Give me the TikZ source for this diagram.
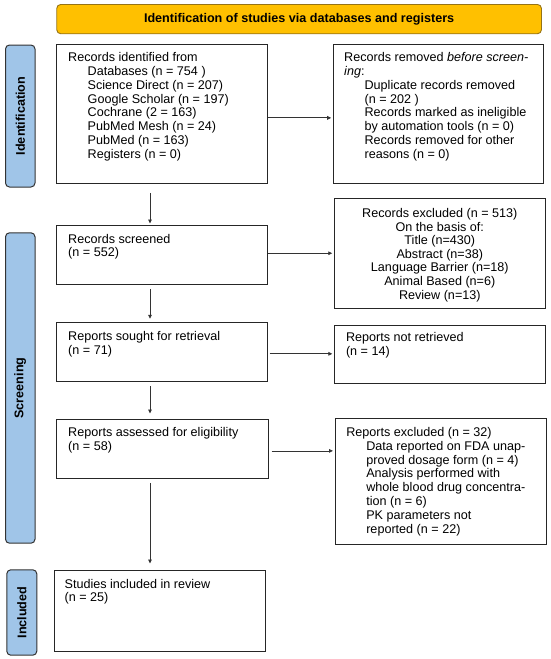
\documentclass[tikz,border=0pt]{standalone}
\usepackage{fontspec}
\setmainfont{Liberation Sans}
\usetikzlibrary{arrows.meta,calc}
\definecolor{sideblue}{RGB}{160,197,232}
\definecolor{gold}{RGB}{255,192,0}
\definecolor{goldedge}{RGB}{150,115,20}
\begin{document}
\begin{tikzpicture}[x=1pt,y=-1pt,
  box/.style={draw=black!85,line width=1.1pt,inner sep=0,anchor=north west},
  side/.style={draw=black!80,fill=sideblue,line width=1pt,rounded corners=4pt,inner sep=0,anchor=north west},
  banner/.style={draw=goldedge,fill=gold,line width=0.9pt,rounded corners=4pt,inner sep=0,anchor=north west},
  txt/.style={inner sep=0,anchor=north west,align=left,font=\fontsize{12.6}{13.85}\selectfont},
  ctxt/.style={inner sep=0,anchor=north,align=center,font=\fontsize{12.6}{13.6}\selectfont},
  lab/.style={inner sep=0,font=\bfseries\fontsize{12.6}{14}\selectfont,rotate=90},
  arr/.style={draw=black!80,line width=0.8pt,-{Triangle[length=4pt,width=3.6pt]}}
]
\useasboundingbox (0,0) rectangle (550,659);

% banner
\node[banner,minimum width=484.7,minimum height=29.3] (ban) at (56.3,4) {};
\node[inner sep=0,font=\bfseries\fontsize{12.6}{14}\selectfont] (bant) at (ban.center) {Identification of studies via databases and registers};

% side labels
\node[side,minimum width=29.5,minimum height=142] (s1) at (5,44.5) {};
\node[lab] (s1t) at (s1.center) {Identification};
\node[side,minimum width=29.5,minimum height=310.4] (s2) at (5,232.3) {};
\node[lab] (s2t) at (s2.center) {Screening};
\node[side,minimum width=30,minimum height=85.4] (s3) at (6.3,569.3) {};
\node[lab] (s3t) at (s3.center) {Included};

% boxes
\node[box,minimum width=210.2,minimum height=138.4] (b1) at (56.3,44.3) {};
\node[box,minimum width=210.6,minimum height=138.4] (b2) at (332.7,44.3) {};
\node[box,minimum width=210.9,minimum height=110] (b3) at (333.8,198.3) {};
\node[box,minimum width=210.2,minimum height=59] (b4) at (56.3,225) {};
\node[box,minimum width=210.2,minimum height=58.7] (b5) at (56.3,322.3) {};
\node[box,minimum width=210.9,minimum height=58] (b6) at (333.8,324.7) {};
\node[box,minimum width=211.3,minimum height=58.7] (b7) at (56.3,419) {};
\node[box,minimum width=211.3,minimum height=126] (b8) at (334.5,418.3) {};
\node[box,minimum width=211.3,minimum height=80.7] (b9) at (53.5,570) {};

% texts
\node[txt] (t1) at ([shift={(11.7,7.9)}]b1.north west) {Records identified from\\
\hspace*{19.5pt}Databases (n = 754 )\\
\hspace*{19.5pt}Science Direct (n = 207)\\
\hspace*{19.5pt}Google Scholar (n = 197)\\
\hspace*{19.5pt}Cochrane (2 = 163)\\
\hspace*{19.5pt}PubMed Mesh (n = 24)\\
\hspace*{19.5pt}PubMed (n = 163)\\
\hspace*{19.5pt}Registers (n = 0)};

\node[txt] (t2) at ([shift={(11.3,7.9)}]b2.north west) {Records removed \textit{before screen-}\\
\textit{ing}:\\
\hspace*{20.4pt}Duplicate records removed\\
\hspace*{20.4pt}(n = 202 )\\
\hspace*{20.4pt}Records marked as ineligible\\
\hspace*{20.4pt}by automation tools (n = 0)\\
\hspace*{20.4pt}Records removed for other\\
\hspace*{20.4pt}reasons (n = 0)};

\node[ctxt] (t3) at ([yshift=-9.8pt]b3.north) {Records excluded (n = 513)\\
On the basis of:\\
Title (n=430)\\
Abstract (n=38)\\
Language Barrier (n=18)\\
Animal Based (n=6)\\
Review (n=13)};

\node[txt] (t4) at ([shift={(11.7,8.7)}]b4.north west) {Records screened\\(n = 552)};
\node[txt] (t5) at ([shift={(11.7,8.8)}]b5.north west) {Reports sought for retrieval\\(n = 71)};
\node[txt] (t6) at ([shift={(12,7.4)}]b6.north west) {Reports not retrieved\\(n = 14)};
\node[txt] (t7) at ([shift={(11.7,8.1)}]b7.north west) {Reports assessed for eligibility\\(n = 58)};
\node[txt] (t8) at ([shift={(11.6,8.8)}]b8.north west) {Reports excluded (n = 32)\\
\hspace*{20pt}Data reported on FDA unap-\\
\hspace*{20pt}proved dosage form (n = 4)\\
\hspace*{20pt}Analysis performed with\\
\hspace*{20pt}whole blood drug concentra-\\
\hspace*{20pt}tion (n = 6)\\
\hspace*{20pt}PK parameters not\\
\hspace*{20pt}reported (n = 22)};
\node[txt] (t9) at ([shift={(10.9,8.7)}]b9.north west) {Studies included in review\\(n = 25)};

% arrows
\coordinate (col) at (150,0);
\draw[arr,shorten <=9pt,shorten >=1.5pt] (b1.south -| col) -- (b4.north -| col);
\draw[arr,shorten <=4pt,shorten >=3.5pt] (b4.south -| col) -- (b5.north -| col);
\draw[arr,shorten <=4pt,shorten >=5.5pt] (b5.south -| col) -- (b7.north -| col);
\draw[arr,shorten <=4pt,shorten >=6.5pt] (b7.south -| col) -- (b9.north -| col);

\draw[arr,shorten >=1.5pt] ([yshift=-3.8pt]b1.east) -- ([yshift=-3.8pt]b1.east -| b2.west);
\draw[arr,shorten >=1.5pt] ([yshift=1.8pt]b4.east) -- ([yshift=1.8pt]b4.east -| b3.west);
\draw[arr,shorten <=2pt,shorten >=1.5pt] ([yshift=-1.6pt]b5.east) -- ([yshift=-1.6pt]b5.east -| b6.west);
\draw[arr,shorten <=2.8pt,shorten >=1.5pt] ([yshift=-2pt]b7.east) -- ([yshift=-2pt]b7.east -| b8.west);
\end{tikzpicture}
\end{document}
